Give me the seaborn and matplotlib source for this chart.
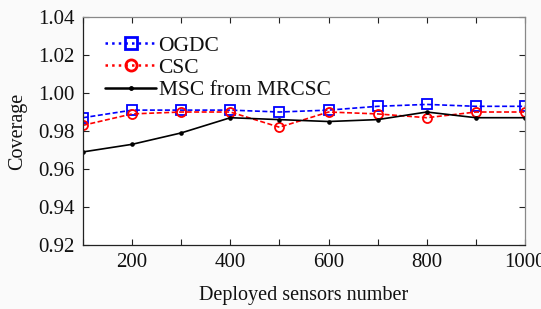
import pandas as pd
import matplotlib.pyplot as plt
import seaborn as sns
from matplotlib.lines import Line2D

# Data
sensors = [100, 200, 300, 400, 500, 600, 700, 800, 900, 1000]
ogdc = [0.987, 0.991, 0.991, 0.991, 0.990, 0.991, 0.993, 0.994, 0.993, 0.993]
csc = [0.983, 0.989, 0.990, 0.990, 0.982, 0.990, 0.989, 0.987, 0.990, 0.990]
msc = [0.969, 0.973, 0.979, 0.987, 0.986, 0.985, 0.986, 0.990, 0.987, 0.987]
names = ['OGDC', 'CSC', 'MSC from MRCSC']
y_ticks = [0.92, 0.94, 0.96, 0.98, 1.00, 1.02, 1.04]
x_ticks = [200, 400, 600, 800, 1000]

sns.set_theme(style="ticks")
plt.rcParams['font.family'] = ['Liberation Serif', 'DejaVu Serif']

df = pd.DataFrame({
    'sensors': sensors * 3,
    'coverage': ogdc + csc + msc,
    'method': [n for n in names for _ in sensors],
})

colors = {'OGDC': '#0000ff', 'CSC': '#ff0000', 'MSC from MRCSC': '#000000'}
marks = {'OGDC': 's', 'CSC': 'o', 'MSC from MRCSC': '.'}
dashes = {'OGDC': (3, 1.5), 'CSC': (3, 1.5), 'MSC from MRCSC': ''}

fig = plt.figure(figsize=(5.41, 3.09), dpi=100, facecolor='#fafafa')
ax = fig.add_axes([0.1534, 0.207, 0.8170, 0.738])
ax.set_facecolor('white')

sns.lineplot(data=df, x='sensors', y='coverage', hue='method', style='method',
             palette=colors, markers=marks, dashes=dashes, linewidth=1.2,
             markersize=6.5, legend=False, ax=ax)

# seaborn draws white marker edges; switch to open coloured markers
for line in ax.lines:
    c = line.get_color()
    line.set_markeredgecolor(c)
    line.set_markeredgewidth(1.3)
    if line.get_marker() == '.':
        line.set_markerfacecolor(c)
        line.set_markersize(4)
    else:
        line.set_markerfacecolor('none')

ax.set_xlim(100, 1000)
ax.set_ylim(0.92, 1.04)
ax.set_xticks(x_ticks)
ax.set_xticks(range(100, 1001, 100), minor=True)
ax.set_yticks(y_ticks)
ax.set_yticklabels([f'{v:.2f}' for v in y_ticks])
ax.tick_params(axis='both', which='both', direction='in', top=True, right=True,
               length=4, width=0.8, labelsize=15, color='#222222',
               labelcolor='#111111', pad=6)
ax.tick_params(axis='x', which='minor', labelbottom=False)
for s in ax.spines.values():
    s.set_visible(True)
    s.set_linewidth(0.9)
    s.set_color('#222222')
ax.spines['right'].set_color('#888888')
ax.spines['top'].set_color('#888888')

ax.set_xlabel('Deployed sensors number', fontsize=14.5, labelpad=10,
              color='#111111')
ax.set_ylabel('Coverage', fontsize=14.5, labelpad=8, color='#111111')

handles = [
    Line2D([], [], color='#0000ff', ls=':', lw=1.8, marker='s', ms=9,
           mfc='none', mew=2),
    Line2D([], [], color='#ff0000', ls=':', lw=1.8, marker='o', ms=8,
           mfc='none', mew=2),
    Line2D([], [], color='black', ls='-', lw=1.8, marker='.', ms=5),
]
ax.legend(handles, names, loc='upper left', bbox_to_anchor=(0.02, 0.975),
          frameon=False, fontsize=15.5, handlelength=2.4, handletextpad=0.1,
          labelspacing=0.1, borderaxespad=0.2, labelcolor='#111111')

plt.savefig('out.png', dpi=100, facecolor=fig.get_facecolor())
